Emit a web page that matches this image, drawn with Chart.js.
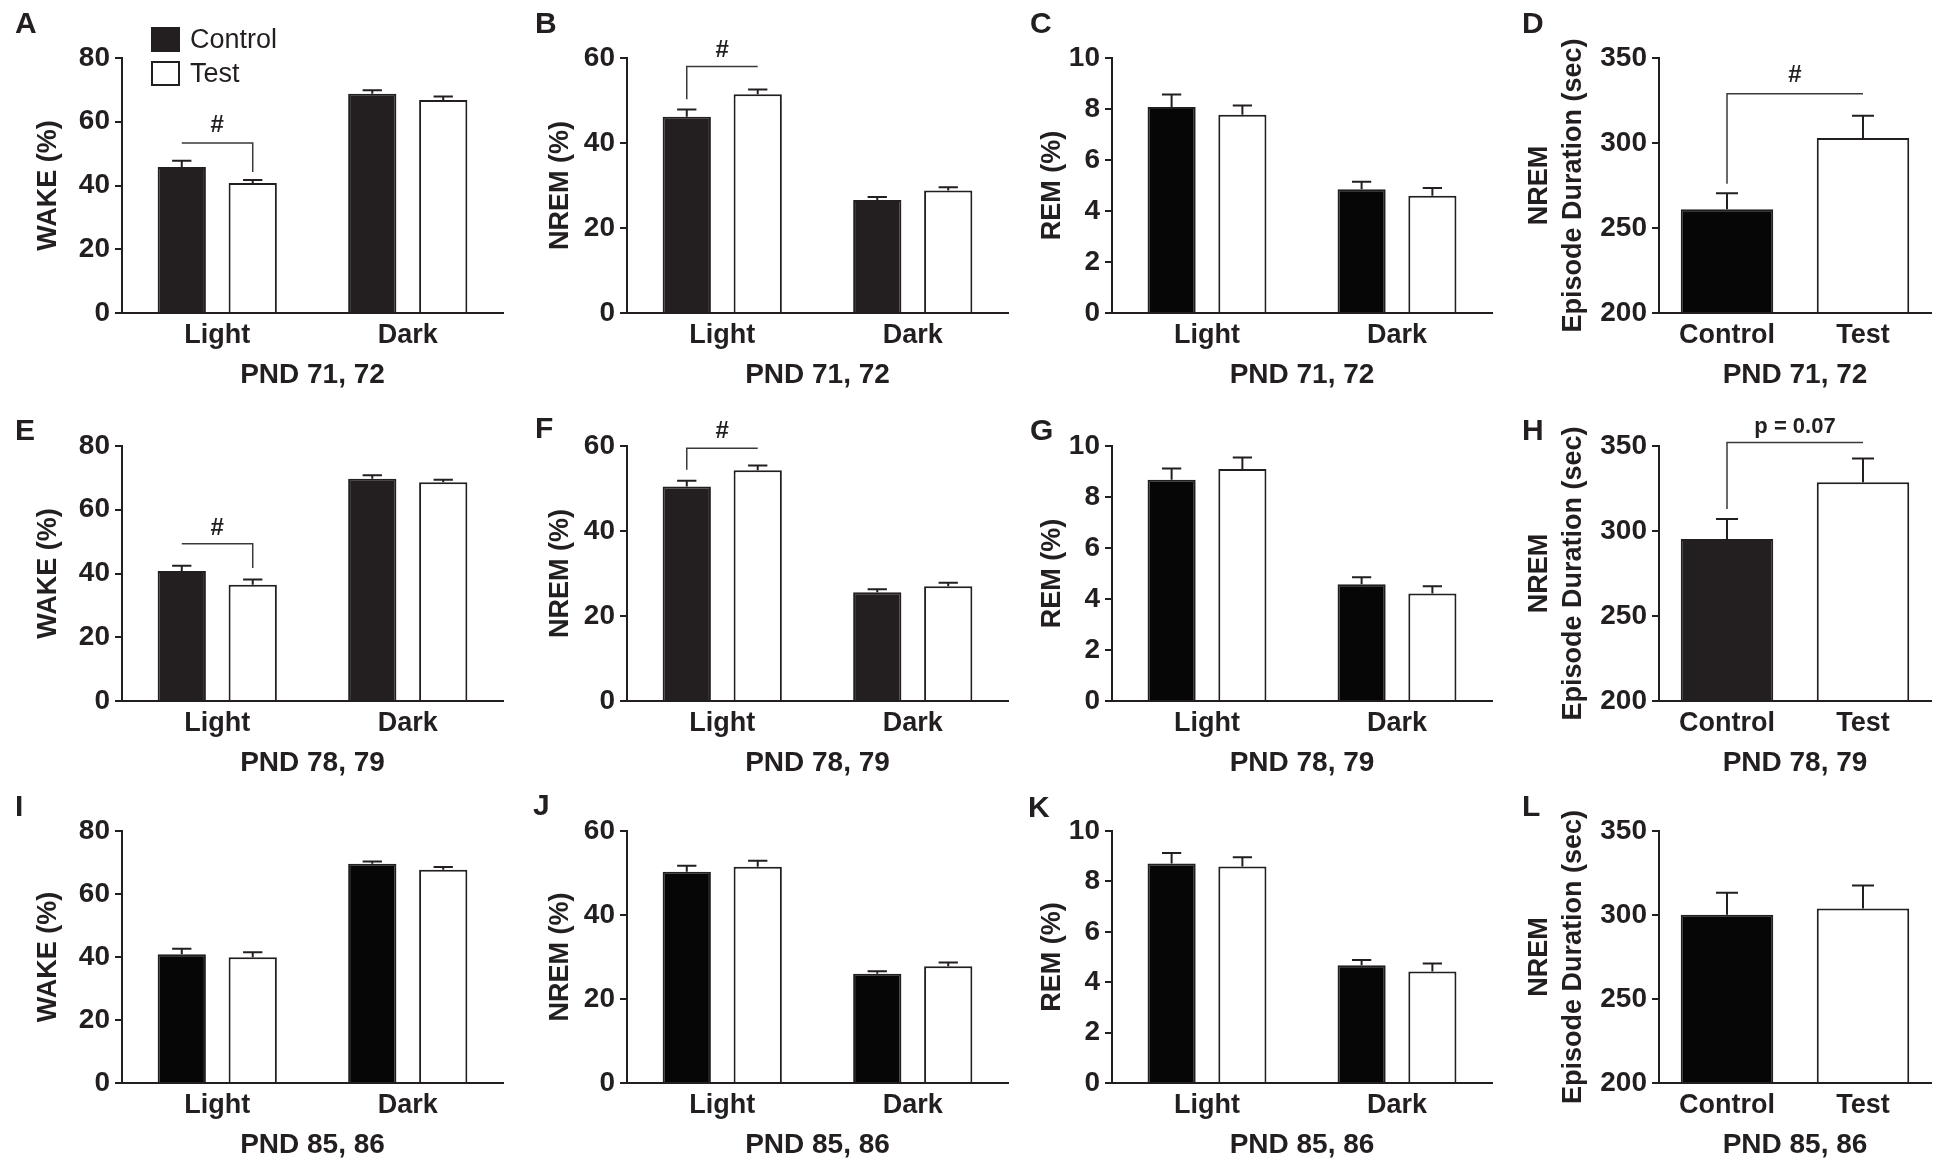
<!DOCTYPE html>
<html>
<head>
<meta charset="utf-8">
<script src="https://cdn.jsdelivr.net/npm/chart.js@4.4.0/dist/chart.umd.min.js"></script>
<style>
  body { margin: 0; background: #fff; }
  #fig { position: relative; width: 1960px; height: 1173px; font-family: "Liberation Sans", Arial, sans-serif; color: #231f20; }
  .panel { position: absolute; }
  .letter { position: absolute; font-size: 30px; line-height: 30px; font-weight: bold; }
</style>
</head>
<body>
<div id="fig"></div>
<script>
const phases = ["Light", "Dark"];
const groups = ["Control", "Test"];

// WAKE (%)
const wake71Control = [45.8, 68.8], wake71ControlSem = [2.0, 1.1];
const wake71Test = [40.8, 66.8], wake71TestSem = [0.9, 1.1];
const wake78Control = [40.8, 69.7], wake78ControlSem = [1.6, 1.1];
const wake78Test = [36.5, 68.6], wake78TestSem = [1.6, 0.8];
const wake85Control = [40.9, 69.6], wake85ControlSem = [1.7, 0.7];
const wake85Test = [39.9, 67.7], wake85TestSem = [1.6, 0.9];

// NREM (%)
const nrem71Control = [46.2, 26.6], nrem71ControlSem = [1.7, 0.7];
const nrem71Test = [51.5, 28.8], nrem71TestSem = [1.1, 0.8];
const nrem78Control = [50.5, 25.6], nrem78ControlSem = [1.3, 0.7];
const nrem78Test = [54.3, 27.0], nrem78TestSem = [1.1, 0.8];
const nrem85Control = [50.3, 26.0], nrem85ControlSem = [1.4, 0.6];
const nrem85Test = [51.5, 27.8], nrem85TestSem = [1.4, 0.9];

// REM (%)
const rem71Control = [8.08, 4.85], rem71ControlSem = [0.49, 0.30];
const rem71Test = [7.77, 4.60], rem71TestSem = [0.37, 0.30];
const rem78Control = [8.68, 4.58], rem78ControlSem = [0.44, 0.27];
const rem78Test = [9.10, 4.22], rem78TestSem = [0.45, 0.28];
const rem85Control = [8.71, 4.67], rem85ControlSem = [0.42, 0.21];
const rem85Test = [8.59, 4.42], rem85TestSem = [0.37, 0.32];

// NREM episode duration (sec): [Control, Test]
const dur71 = [261, 303], dur71Sem = [9.5, 13];
const dur78 = [295.3, 328.7], dur78Sem = [11.7, 14];
const dur85 = [300.1, 303.8], dur85Sem = [13.2, 13.8];

const pndLabels = ["PND 71, 72", "PND 78, 79", "PND 85, 86"];

const ink = "#231f20";
const grey = "#231f20";
const black = "#060606";
Chart.defaults.font.family = '"Liberation Sans", Arial, sans-serif';
Chart.defaults.color = ink;

// layout of each plot area
const rowsTB = [[58, 313], [446, 701], [831, 1083]];
const colsLR = [[122, 503, 0, 48.5], [627, 1008, 515, 46], [1112, 1492, 1005, 48], [1659, 1931, 1510, 30]];
const PT = 45, PR = 12, XH = 85;

const marks = {
  id: "marks",
  afterDatasetsDraw(chart, args, opts) {
    const ctx = chart.ctx;
    const ys = chart.scales.y;
    ctx.save();
    ctx.strokeStyle = ink;
    ctx.lineWidth = 2;
    chart.data.datasets.forEach((ds, i) => {
      chart.getDatasetMeta(i).data.forEach((bar, j) => {
        const top = ys.getPixelForValue(ds.data[j] + opts.sem[i][j]);
        const half = Math.min(bar.width * 0.2, 11);
        ctx.beginPath();
        ctx.moveTo(bar.x, bar.y);
        ctx.lineTo(bar.x, top);
        ctx.moveTo(bar.x - half, top);
        ctx.lineTo(bar.x + half, top);
        ctx.stroke();
      });
    });
    (opts.brackets || []).forEach(b => {
      const xa = chart.getDatasetMeta(b.a[0]).data[b.a[1]].x;
      const xb = chart.getDatasetMeta(b.b[0]).data[b.b[1]].x;
      const yy = ys.getPixelForValue(b.y);
      ctx.strokeStyle = "#3a3a3a";
      ctx.lineWidth = 1.5;
      ctx.beginPath();
      ctx.moveTo(xa, b.dropA != null ? ys.getPixelForValue(b.dropA) : yy);
      ctx.lineTo(xa, yy);
      ctx.lineTo(xb, yy);
      ctx.lineTo(xb, b.dropB != null ? ys.getPixelForValue(b.dropB) : yy);
      ctx.stroke();
      ctx.fillStyle = ink;
      ctx.font = "bold " + b.size + 'px "Liberation Sans", Arial, sans-serif';
      ctx.textAlign = "center";
      ctx.textBaseline = "middle";
      ctx.fillText(b.text, (xa + xb) / 2, ys.getPixelForValue(b.textY));
    });
    if (opts.legend) {
      const a = chart.chartArea;
      const sets = chart.data.datasets;
      ctx.font = '27px "Liberation Sans", Arial, sans-serif';
      ctx.textAlign = "left";
      ctx.textBaseline = "middle";
      ctx.lineWidth = 2;
      sets.forEach((ds, i) => {
        const top = a.top - 30 + i * 34;
        ctx.fillStyle = ds.backgroundColor;
        ctx.fillRect(a.left + 30, top, 27, 23);
        ctx.strokeStyle = ink;
        ctx.strokeRect(a.left + 30, top, 27, 23);
        ctx.fillStyle = ink;
        ctx.fillText(ds.label, a.left + 68, top + 13);
      });
    }
    ctx.restore();
  }
};

const panels = [
  { id: "A", r: 0, c: 0, title: "WAKE (%)", max: 80, step: 20, fill: grey,
    series: [wake71Control, wake71Test], sem: [wake71ControlSem, wake71TestSem], legend: true,
    brackets: [{ a: [0, 0], b: [1, 0], y: 53.3, dropB: 44.2, text: "#", textY: 59, size: 24 }], lx: 15, ly: 23 },
  { id: "B", r: 0, c: 1, title: "NREM (%)", max: 60, step: 20, fill: grey,
    series: [nrem71Control, nrem71Test], sem: [nrem71ControlSem, nrem71TestSem],
    brackets: [{ a: [0, 0], b: [1, 0], y: 58, dropA: 50.3, text: "#", textY: 61.9, size: 24 }], lx: 535, ly: 23 },
  { id: "C", r: 0, c: 2, title: "REM (%)", max: 10, step: 2, fill: black,
    series: [rem71Control, rem71Test], sem: [rem71ControlSem, rem71TestSem], lx: 1030, ly: 23 },
  { id: "D", r: 0, c: 3, dur: true, values: dur71, sem: [dur71Sem], fill: black,
    brackets: [{ a: [0, 0], b: [0, 1], y: 329, dropA: 276, text: "#", textY: 339.5, size: 24 }], lx: 1522, ly: 23 },
  { id: "E", r: 1, c: 0, title: "WAKE (%)", max: 80, step: 20, fill: grey,
    series: [wake78Control, wake78Test], sem: [wake78ControlSem, wake78TestSem],
    brackets: [{ a: [0, 0], b: [1, 0], y: 49.3, dropB: 41.7, text: "#", textY: 54.2, size: 24 }], lx: 15, ly: 430 },
  { id: "F", r: 1, c: 1, title: "NREM (%)", max: 60, step: 20, fill: grey,
    series: [nrem78Control, nrem78Test], sem: [nrem78ControlSem, nrem78TestSem],
    brackets: [{ a: [0, 0], b: [1, 0], y: 59.5, dropA: 54.4, text: "#", textY: 63.4, size: 24 }], lx: 535, ly: 428 },
  { id: "G", r: 1, c: 2, title: "REM (%)", max: 10, step: 2, fill: black,
    series: [rem78Control, rem78Test], sem: [rem78ControlSem, rem78TestSem], lx: 1030, ly: 430 },
  { id: "H", r: 1, c: 3, dur: true, values: dur78, sem: [dur78Sem], fill: grey,
    brackets: [{ a: [0, 0], b: [0, 1], y: 352, dropA: 313, text: "p = 0.07", textY: 361.2, size: 22 }], lx: 1522, ly: 430 },
  { id: "I", r: 2, c: 0, title: "WAKE (%)", max: 80, step: 20, fill: black,
    series: [wake85Control, wake85Test], sem: [wake85ControlSem, wake85TestSem], lx: 15, ly: 806 },
  { id: "J", r: 2, c: 1, title: "NREM (%)", max: 60, step: 20, fill: black,
    series: [nrem85Control, nrem85Test], sem: [nrem85ControlSem, nrem85TestSem], lx: 533, ly: 805 },
  { id: "K", r: 2, c: 2, title: "REM (%)", max: 10, step: 2, fill: black,
    series: [rem85Control, rem85Test], sem: [rem85ControlSem, rem85TestSem], lx: 1028, ly: 807 },
  { id: "L", r: 2, c: 3, dur: true, values: dur85, sem: [dur85Sem], fill: black, lx: 1522, ly: 806 },
];

const fig = document.getElementById("fig");

panels.forEach(p => {
  const [t, b] = rowsTB[p.r];
  const [l, r, left0, titleX] = colsLR[p.c];
  const YW = l - left0;

  const box = document.createElement("div");
  box.className = "panel";
  box.style.left = left0 + "px";
  box.style.top = (t - PT) + "px";
  box.style.width = (r - left0 + PR) + "px";
  box.style.height = (b - t + PT + XH) + "px";
  const canvas = document.createElement("canvas");
  box.appendChild(canvas);
  fig.appendChild(box);

  const letter = document.createElement("div");
  letter.className = "letter";
  letter.textContent = p.id;
  letter.style.left = p.lx + "px";
  letter.style.top = (p.ly - 15) + "px";
  fig.appendChild(letter);

  let labels, datasets, yMin, yMax, yStep, yTitle, titleLH;
  if (p.dur) {
    labels = groups;
    datasets = [{
      label: "NREM episode duration",
      data: p.values,
      backgroundColor: [p.fill, "#ffffff"],
      borderColor: ink,
      borderWidth: 2,
      categoryPercentage: 0.68,
      barPercentage: 1,
    }];
    yMin = 200; yMax = 350; yStep = 50;
    yTitle = ["NREM", "Episode Duration (sec)"];
    titleLH = 34 / 27;
  } else {
    labels = phases;
    datasets = groups.map((g, i) => ({
      label: g,
      data: p.series[i],
      backgroundColor: i === 0 ? p.fill : "#ffffff",
      borderColor: ink,
      borderWidth: 2,
      categoryPercentage: 0.745,
      barPercentage: 0.68,
    }));
    yMin = 0; yMax = p.max; yStep = p.step;
    yTitle = p.title;
    titleLH = 1.2;
  }
  const titlePad = titleX - (27 * titleLH) / 2;

  new Chart(canvas, {
    type: "bar",
    data: { labels, datasets },
    plugins: [marks],
    options: {
      animation: false,
      responsive: true,
      maintainAspectRatio: false,
      layout: { padding: { top: PT, right: PR, left: 0, bottom: 0 } },
      plugins: {
        legend: { display: false },
        tooltip: { enabled: false },
        marks: { sem: p.sem, brackets: p.brackets, legend: !!p.legend },
      },
      scales: {
        x: {
          offset: true,
          grid: { display: false, drawTicks: false },
          border: { display: true, color: ink, width: 2, z: 1 },
          ticks: { color: ink, font: { size: 27, weight: "bold" }, padding: 6 },
          title: {
            display: true, text: pndLabels[p.r], color: ink,
            font: { size: 28, weight: "bold" }, padding: { top: 0, bottom: 6 },
          },
          afterFit: s => { s.height = XH; },
        },
        y: {
          min: yMin, max: yMax,
          beginAtZero: false,
          ticks: { stepSize: yStep, color: ink, font: { size: 28, weight: "bold" }, padding: 5 },
          grid: { drawOnChartArea: false, drawTicks: true, tickLength: 7, color: ink, lineWidth: 2 },
          border: { display: true, color: ink, width: 2, z: 1 },
          title: {
            display: true, text: yTitle, color: ink,
            font: { size: 27, weight: "bold", lineHeight: titleLH }, padding: { top: titlePad, bottom: 0 },
          },
          afterFit: s => { s.width = YW; },
        },
      },
    },
  });
});
</script>
</body>
</html>
